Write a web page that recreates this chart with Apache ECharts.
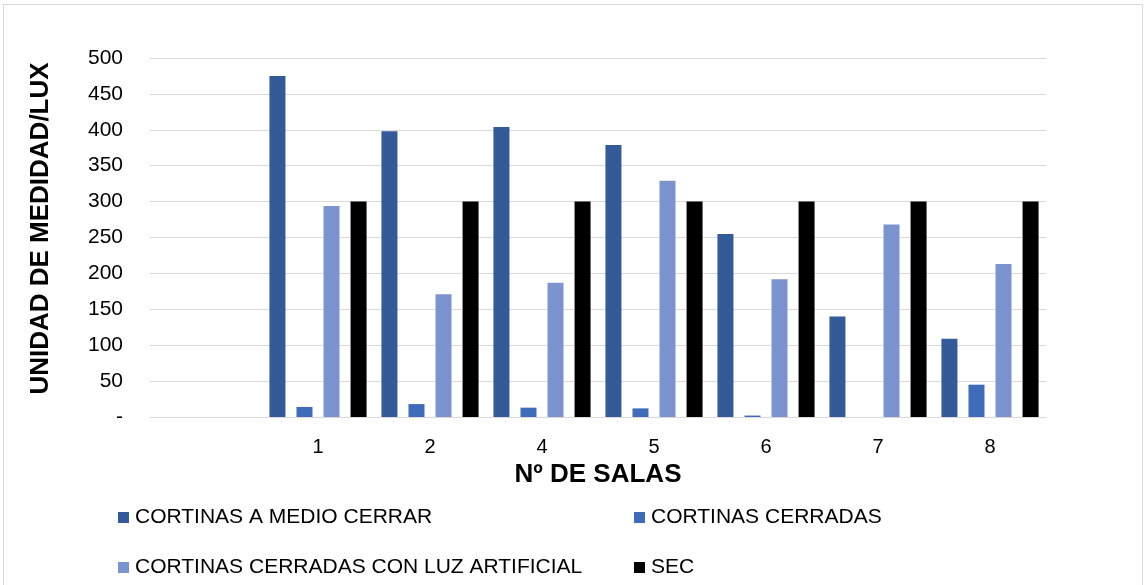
<!DOCTYPE html>
<html>
<head>
<meta charset="utf-8">
<script src="https://cdn.jsdelivr.net/npm/echarts@6/dist/echarts.min.js"></script>
<style>
html,body{margin:0;padding:0;background:#fff;}
#frame{position:absolute;left:3px;top:4px;width:1140px;height:600px;border:1px solid #d9d9d9;box-sizing:border-box;}
#chart{position:absolute;left:0;top:0;width:1146px;height:585px;}
</style>
</head>
<body>
<div id="frame"></div>
<div id="chart"></div>
<script>
const categories = ['', '1', '2', '4', '5', '6', '7', '8'];
const medioCerrar = [null, 475, 398, 404, 379, 255, 140, 109];
const cerradas = [null, 14, 18, 13, 12, 2, 0, 45];
const luzArtificial = [null, 294, 171, 187, 329, 192, 268, 213];
const sec = [null, 300, 300, 300, 300, 300, 300, 300];
const yTicks = { min: 0, max: 500, interval: 50 };

const font = 'Liberation Sans, Arial, sans-serif';
const names = ['CORTINAS A MEDIO CERRAR', 'CORTINAS CERRADAS', 'CORTINAS CERRADAS CON LUZ ARTIFICIAL', 'SEC'];
const colors = ['#335a9b', '#3f6cba', '#7b94d0', '#000000'];
const datas = [medioCerrar, cerradas, luzArtificial, sec];

const chart = echarts.init(document.getElementById('chart'));
const legendPos = [[113, 502], [629, 502], [113, 552], [629, 552]];
chart.setOption({
  animation: false,
  textStyle: { fontFamily: font },
  grid: { left: 150, right: 100, top: 58, bottom: 168, containLabel: false },
  legend: names.map((n, i) => ({
    data: [n], left: legendPos[i][0], top: legendPos[i][1],
    icon: 'rect', itemWidth: 11, itemHeight: 11, itemGap: 4,
    textStyle: { fontFamily: font, fontSize: 21, color: '#000', padding: [0, 0, 0, 1] },
    selectedMode: false
  })),
  xAxis: {
    type: 'category', data: categories,
    axisLine: { lineStyle: { color: '#d9d9d9', width: 1 } },
    axisTick: { show: false },
    axisLabel: { fontFamily: font, fontSize: 20, color: '#000', margin: 20 },
    name: 'Nº DE SALAS', nameLocation: 'middle', nameGap: 45,
    nameTextStyle: { fontFamily: font, fontSize: 26, fontWeight: 'bold', color: '#000' }
  },
  yAxis: {
    type: 'value', min: yTicks.min, max: yTicks.max, interval: yTicks.interval,
    axisLine: { show: false }, axisTick: { show: false },
    splitLine: { lineStyle: { color: '#d9d9d9', width: 1 } },
    axisLabel: { fontFamily: font, fontSize: 21, color: '#000', margin: 27,
      formatter: v => v === 0 ? '-' : String(v) },
    name: 'UNIDAD DE MEDIDAD/LUX', nameLocation: 'middle', nameGap: 96,
    nameTextStyle: { fontFamily: font, fontSize: 26, fontWeight: 'bold', color: '#000', padding: [0, 0, 0, 18] }
  },
  series: names.map((n, i) => ({
    name: n, type: 'bar', data: datas[i], barWidth: 16, barGap: '69%',
    itemStyle: { color: colors[i] }
  }))
});
</script>
</body>
</html>
